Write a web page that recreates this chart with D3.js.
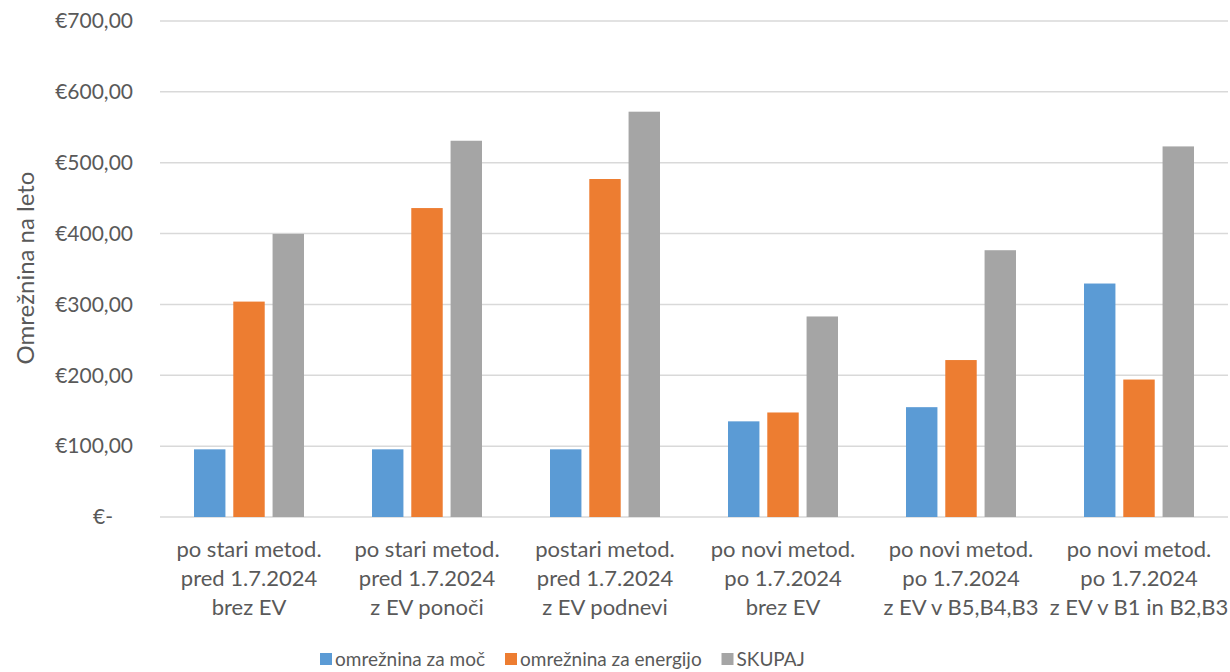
<!DOCTYPE html>
<html><head><meta charset="utf-8">
<script src="https://cdn.jsdelivr.net/npm/d3@7"></script>
<style>body{margin:0;background:#fff}text{font-family:Lato,"Open Sans",sans-serif;fill:#595959}</style>
</head><body><svg id="c" width="1230" height="672"></svg>
<script>
const categories = [
  ["po stari metod.","pred 1.7.2024","brez EV"],
  ["po stari metod.","pred 1.7.2024","z EV ponoči"],
  ["postari metod.","pred 1.7.2024","z EV podnevi"],
  ["po novi metod.","po 1.7.2024","brez EV"],
  ["po novi metod.","po 1.7.2024","z EV v B5,B4,B3"],
  ["po novi metod.","po 1.7.2024","z EV v B1 in B2,B3"]
];
const seriesNames = ["omrežnina za moč","omrežnina za energijo","SKUPAJ"];
const seriesColors = ["#5b9bd5","#ed7d31","#a5a5a5"];
const mocValues = [95.5, 95.5, 95.5, 135, 155, 329.5];
const energijaValues = [304, 436, 477, 147.5, 221.5, 194];
const skupajValues = [399.5, 531, 572, 283, 376.5, 523];
const yTicks = [0,100,200,300,400,500,600,700];
const yTitle = "Omrežnina na leto";

(function(){
const series = [mocValues, energijaValues, skupajValues];
const svg = d3.select("#c");
const pL = 160, pR = 1228, pT = 21, pB = 517;
const y = d3.scaleLinear().domain([0,700]).range([pB, pT]);
const x0 = d3.scaleBand().domain(d3.range(categories.length)).range([pL, pR]);
const x1 = d3.scaleBand().domain(d3.range(3)).range([-55, 55]).paddingInner(0.2);
const fmt = v => v === 0 ? "€-" : "€" + v.toFixed(2).replace(".", ",");

svg.append("g").selectAll("line").data(yTicks).join("line")
  .attr("x1", pL).attr("x2", pR)
  .attr("y1", d => y(d)).attr("y2", d => y(d))
  .attr("stroke", "#d9d9d9").attr("stroke-width", 1.5);

svg.append("g").selectAll("text").data(yTicks).join("text")
  .attr("x", d => d === 0 ? 113 : 133).attr("y", d => y(d)).attr("dy", "0.35em")
  .attr("text-anchor", "end").attr("font-size", 21).text(fmt);

categories.forEach((c, i) => {
  const cx = x0(i) + x0.bandwidth() / 2;
  series.forEach((s, k) => {
    svg.append("rect")
      .attr("x", cx + x1(k)).attr("width", x1.bandwidth())
      .attr("y", y(s[i])).attr("height", y(0) - y(s[i]))
      .attr("fill", seriesColors[k]);
  });
  const t = svg.append("text").attr("text-anchor", "middle").attr("font-size", 22);
  c.forEach((line, j) => {
    t.append("tspan").attr("x", cx).attr("y", 557 + j * 29).text(line);
  });
});

svg.append("text").attr("transform", "translate(34,268) rotate(-90)")
  .attr("text-anchor", "middle").attr("font-size", 24).text(yTitle);

const legX = [320, 505, 721.5];
seriesNames.forEach((n, k) => {
  svg.append("rect").attr("x", legX[k]).attr("y", 653).attr("width", 12).attr("height", 12).attr("fill", seriesColors[k]);
  svg.append("text").attr("x", legX[k] + 15).attr("y", 659).attr("dy", "0.35em").attr("font-size", 19).text(n);
});
})();
</script></body></html>
